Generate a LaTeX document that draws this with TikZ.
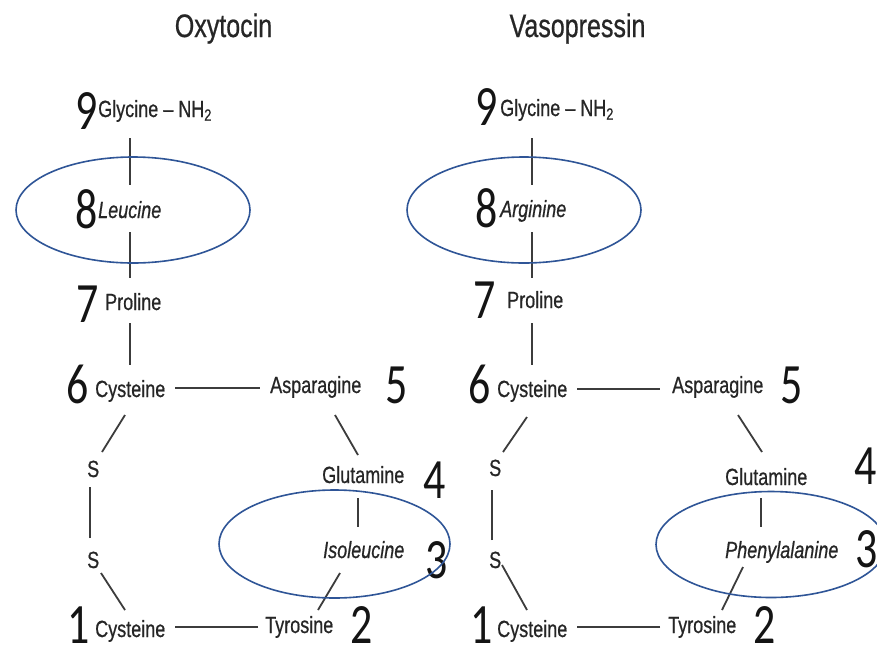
\documentclass[tikz,border=0pt]{standalone}
\usepackage{fontspec}
\usetikzlibrary{calc}
\newfontfamily\labfont[FakeStretch=0.77,FakeBold=0.6]{Liberation Sans}
\newfontfamily\digfont[FakeStretch=0.77]{Carlito}
\definecolor{txt}{HTML}{262626}
\definecolor{bondc}{HTML}{3C3C3C}
\definecolor{ringc}{HTML}{2F5597}
\tikzset{
  lab/.style={anchor=base west, inner sep=0pt, text=txt, font=\labfont\fontsize{23.4}{24}\selectfont},
  ilab/.style={lab, font=\labfont\itshape\fontsize{23.4}{24}\selectfont},
  num/.style={anchor=base west, inner sep=0pt, text=black!92, font=\digfont\fontsize{57}{58}\selectfont},
  ttl/.style={anchor=base, inner sep=0pt, text=txt, font=\labfont\fontsize{32.5}{33}\selectfont},
  bond/.style={draw=bondc, line width=1.8pt},
  ring/.style={draw=ringc, line width=1.6pt},
}
\begin{document}
\begin{tikzpicture}[x=1pt,y=-1pt]
\useasboundingbox (0,0) rectangle (877,651);
\fill[white] (0,0) rectangle (877,651);

% titles
\node[ttl] (t1) at (223.5,37) {Oxytocin};
\node[ttl] (t2) at (577.5,37) {Vasopressin};

% ---------------- Oxytocin ----------------
\node[lab]  (a9) at (98,117)  {Glycine – NH\textsubscript{2}};
\node[ilab] (a8) at (98,218)  {Leucine};
\node[lab]  (a7) at (105,310) {Proline};
\node[lab]  (a6) at (95,397)  {Cysteine};
\node[lab]  (a5) at (270,393) {Asparagine};
\node[lab]  (a4) at (322,483) {Glutamine};
\node[ilab] (a3) at (323,558) {Isoleucine};
\node[lab]  (a2) at (265,633) {Tyrosine};
\node[lab]  (a1) at (95,637)  {Cysteine};
\node[lab]  (asU) at (87,477) {S};
\node[lab]  (asL) at (87,568) {S};

\node[num] (an9) at (75,129)  {9};
\node[num] (an8) at (75,228)  {8};
\node[num] (an7) at (76,322)  {7};
\node[num] (an6) at (66,403)  {6};
\node[num] (an5) at (385,403) {5};
\node[num] (an4) at (423,498) {4};
\node[num] (an3) at (425,578) {3};
\node[num] (an2) at (350,643) {2};
\node[num] (an1) at (67,643)  {1};

\draw[bond] ($(a9.base west)+(32,21)$) -- ($(a8.base west)+(32,-33)$);
\draw[bond] ($(a8.base west)+(32,14)$) -- ($(a7.base west)+(25,-32)$);
\draw[bond] ($(a7.base west)+(25,13)$) -- ($(a6.base west)+(35,-32)$);
\draw[bond] ($(a6.base west)+(80,-9)$) -- ($(a5.base west)+(-10,-5)$);
\draw[bond] ($(a5.base west)+(65,22)$) -- ($(a4.base west)+(36,-28)$);
\draw[bond] ($(a4.base west)+(36,15)$) -- ($(a3.base west)+(35,-31)$);
\draw[bond] ($(a3.base west)+(17,15)$) -- ($(a2.base west)+(53,-23)$);
\draw[bond] ($(a2.base west)+(-7,-6)$) -- ($(a1.base west)+(80,-10)$);
\draw[bond] ($(a1.base west)+(30,-27)$) -- ($(asL.base west)+(14,5)$);
\draw[bond] ($(asL.base west)+(3,-30)$) -- ($(asU.base west)+(3,10)$);
\draw[bond] ($(asU.base west)+(15,-25)$) -- ($(a6.base west)+(30,18)$);

% ---------------- Vasopressin ----------------
\node[lab]  (b9) at (500,116) {Glycine – NH\textsubscript{2}};
\node[ilab] (b8) at (500,217) {Arginine};
\node[lab]  (b7) at (507,308) {Proline};
\node[lab]  (b6) at (497,397) {Cysteine};
\node[lab]  (b5) at (672,393) {Asparagine};
\node[lab]  (b4) at (725,485) {Glutamine};
\node[ilab] (b3) at (725,558) {Phenylalanine};
\node[lab]  (b2) at (668,633) {Tyrosine};
\node[lab]  (b1) at (497,637) {Cysteine};
\node[lab]  (bsU) at (489,476) {S};
\node[lab]  (bsL) at (489,568) {S};

\node[num] (bn9) at (475,125) {9};
\node[num] (bn8) at (475,227) {8};
\node[num] (bn7) at (473,318) {7};
\node[num] (bn6) at (468,403) {6};
\node[num] (bn5) at (780,403) {5};
\node[num] (bn4) at (854,484) {4};
\node[num] (bn3) at (855,567) {3};
\node[num] (bn2) at (753,643) {2};
\node[num] (bn1) at (470,643) {1};

\draw[bond] ($(b9.base west)+(32,22)$) -- ($(b8.base west)+(32,-32)$);
\draw[bond] ($(b8.base west)+(32,15)$) -- ($(b7.base west)+(25,-30)$);
\draw[bond] ($(b7.base west)+(25,15)$) -- ($(b6.base west)+(35,-32)$);
\draw[bond] ($(b6.base west)+(80,-8)$) -- ($(b5.base west)+(-12,-4)$);
\draw[bond] ($(b5.base west)+(66,22)$) -- ($(b4.base west)+(37,-33)$);
\draw[bond] ($(b4.base west)+(36,13)$) -- ($(b3.base west)+(36,-31)$);
\draw[bond] ($(b3.base west)+(18,9)$) -- ($(b2.base west)+(54,-23)$);
\draw[bond] ($(b2.base west)+(-8,-6)$) -- ($(b1.base west)+(80,-10)$);
\draw[bond] ($(b1.base west)+(30,-27)$) -- ($(bsL.base west)+(13,-3)$);
\draw[bond] ($(bsL.base west)+(3,-28)$) -- ($(bsU.base west)+(3,14)$);
\draw[bond] ($(bsU.base west)+(14,-24)$) -- ($(b6.base west)+(30,20)$);

% ---------------- highlight ellipses ----------------
\draw[ring] (133,210) ellipse [x radius=117, y radius=53];
\draw[ring] (524,210) ellipse [x radius=117, y radius=53];
\draw[ring] (334.5,544) ellipse [x radius=115.5, y radius=54];
\draw[ring] (771,544.5) ellipse [x radius=115, y radius=53];
\end{tikzpicture}
\end{document}
